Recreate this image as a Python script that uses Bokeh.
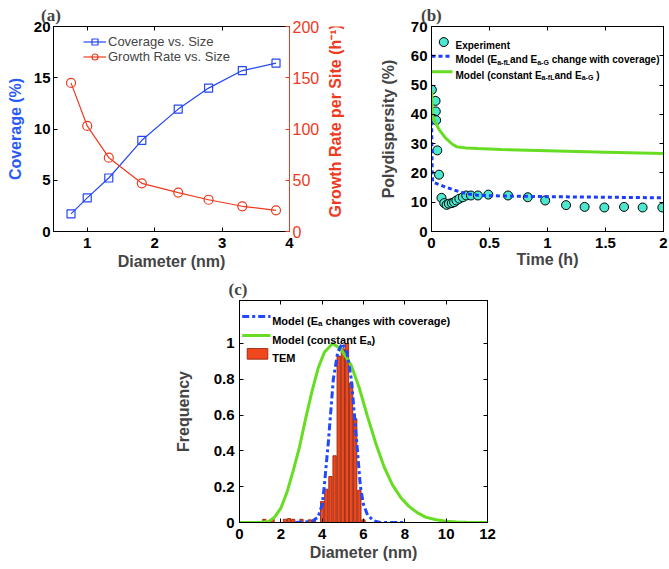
import math
from bokeh.plotting import figure
from bokeh.models import Range1d, LinearAxis, Label, Legend, LegendItem, Spacer, FixedTicker
from bokeh.layouts import row, column
from bokeh.embed import file_html
from bokeh.resources import INLINE

# ---------------- data ----------------
# panel (a)
a_diameter = [0.76, 1.0, 1.32, 1.81, 2.35, 2.8, 3.3, 3.8]
a_coverage = [1.72, 3.28, 5.22, 8.9, 11.94, 13.99, 15.7, 16.42]
a_growth = [145, 103, 72, 47, 38, 31, 24.6, 20.7]
a_xticks = [1, 2, 3, 4]
a_yticks = [0, 5, 10, 15, 20]
a_y2ticks = [0, 50, 100, 150, 200]

# panel (b)
b_time_exp = [0.003, 0.035, 0.037, 0.04, 0.05, 0.065, 0.086, 0.11, 0.13, 0.15, 0.175,
              0.195, 0.215, 0.24, 0.27, 0.30, 0.34, 0.40, 0.49, 0.66, 0.83, 0.98,
              1.16, 1.32, 1.49, 1.66, 1.82, 1.99]
b_pd_exp = [48.4, 44.6, 41.0, 38.0, 27.7, 19.4, 11.5, 9.7, 9.1, 9.5, 9.7,
            10.0, 10.6, 11.2, 11.7, 12.3, 12.3, 12.3, 12.6, 12.3, 11.7, 10.6,
            9.0, 8.4, 8.2, 8.4, 8.2, 8.2]
b_time_m1 = [0.0, 0.003, 0.006, 0.01, 0.1, 0.2, 0.3, 0.4, 0.5, 1.0, 1.5, 2.0]
b_pd_m1 = [40.0, 30.0, 21.0, 16.9, 15.5, 14.1, 12.9, 12.4, 12.2, 11.9, 11.7, 11.5]
b_time_m2 = [0.0, 0.008, 0.03, 0.066, 0.12, 0.18, 0.22, 0.3, 0.4, 0.6, 1.0, 1.5, 2.0]
b_pd_m2 = [48.0, 39.5, 37.5, 34.8, 32.0, 29.8, 28.9, 28.5, 28.3, 28.0, 27.6, 27.1, 26.6]
b_xticks = [0, 0.5, 1, 1.5, 2]
b_xlabels = ["0", "0.5", "1", "1.5", "2"]
b_yticks = [0, 10, 20, 30, 40, 50, 60, 70]

# panel (c)
c_hist_d = [1.2, 1.6, 2.2, 2.4, 2.6, 3.0, 3.4, 3.6, 4.0, 4.2, 4.4, 4.6, 4.8, 5.0,
            5.2, 5.4, 5.6, 5.8, 6.0]
c_hist_f = [0.018, 0.018, 0.018, 0.022, 0.018, 0.018, 0.015, 0.015, 0.117, 0.186,
            0.257, 0.373, 0.93, 0.97, 1.0, 0.78, 0.58, 0.18, 0.015]
c_m1_d = [2.7, 3.5, 3.8, 4.0, 4.1, 4.3, 4.54, 4.75, 4.97, 5.2, 5.41, 5.6, 5.85, 6.0,
          6.2, 6.5, 6.8, 7.2, 8.0]
c_m1_f = [0.0, 0.005, 0.03, 0.1, 0.2, 0.45, 0.8, 0.95, 1.0, 0.95, 0.8, 0.55, 0.2, 0.1,
          0.04, 0.01, 0.0, 0.0, 0.0]
c_m2_d = [0, 1.0, 1.4, 1.7, 2.0, 2.3, 2.6, 2.9, 3.2, 3.5, 3.8, 4.1, 4.5, 4.9, 5.4,
          5.8, 6.2, 6.6, 7.0, 7.4, 7.8, 8.2, 8.6, 9.0, 9.5, 10, 10.5, 11, 12]
c_m2_f = [0, 0, 0.005, 0.03, 0.08, 0.17, 0.29, 0.42, 0.58, 0.73, 0.86, 0.95, 1.0,
          0.97, 0.88, 0.75, 0.59, 0.44, 0.31, 0.21, 0.14, 0.09, 0.055, 0.03, 0.015,
          0.007, 0.003, 0.001, 0]
c_xticks = [0, 2, 4, 6, 8, 10, 12]
c_yticks = [0, 0.2, 0.4, 0.6, 0.8, 1]
c_ylabels = ["0", "0.2", "0.4", "0.6", "0.8", "1"]

# ---------------- styles ----------------
SANS = "Liberation Sans"
SERIF = "Liberation Serif"
BLUE_A = "#2447F2"
BLUE_LBL = "#2B5BF5"
RED_A = "#EE3A1E"
CYAN = "#4DE6CF"
BLUE_B = "#1B3CFF"
GREEN = "#66DD22"
BLUE_C = "#1F48FF"
BAR_FILL = "#F0471C"
BAR_EDGE = "#8A1C05"

WB = {' ': 278, '(': 333, ')': 333, '-': 333, '.': 278, '%': 889,
      'a': 556, 'b': 611, 'c': 556, 'd': 611, 'e': 556, 'f': 333, 'g': 611, 'h': 611,
      'i': 278, 'j': 278, 'k': 556, 'l': 278, 'm': 889, 'n': 611, 'o': 611, 'p': 611,
      'q': 611, 'r': 389, 's': 556, 't': 333, 'u': 611, 'v': 556, 'w': 778, 'x': 556,
      'y': 556, 'z': 500, 'A': 722, 'C': 722, 'E': 667, 'G': 778, 'L': 611, 'M': 833,
      'R': 722, 'S': 667, 'T': 611}


def tw(s, fs):
    return sum(WB.get(ch, 556) for ch in s) * fs / 1000.0


def style_axis(ax, tick_fs="15px", bold=True, color="black", standoff=4):
    ax.major_tick_in = 4
    ax.major_tick_out = 0
    ax.minor_tick_line_color = None
    ax.axis_line_color = color
    ax.major_tick_line_color = color
    ax.major_label_text_color = color
    ax.major_label_text_font = SANS
    ax.major_label_text_font_size = tick_fs
    ax.major_label_text_font_style = "bold" if bold else "normal"
    ax.major_label_standoff = standoff
    ax.axis_label_text_font = SANS
    ax.axis_label_text_font_style = "bold"
    ax.axis_label_text_font_size = "16px"


def box_axis(p, side, ticks):
    ax = LinearAxis(ticker=FixedTicker(ticks=ticks),
                    major_label_overrides={t: "" for t in ticks})
    style_axis(ax, tick_fs="1px", standoff=0)
    p.add_layout(ax, side)


def make_fig(w, h, xr, yr, bl, br, bt, bb, tag, tag_offset):
    p = figure(width=w, height=h, x_range=Range1d(*xr), y_range=Range1d(*yr),
               output_backend="svg", toolbar_location=None,
               min_border_left=bl, min_border_right=br, min_border_top=bt,
               min_border_bottom=bb)
    p.xgrid.grid_line_color = None
    p.ygrid.grid_line_color = None
    p.outline_line_color = "black"
    p.outline_line_alpha = 1.0
    p.background_fill_color = "white"
    p.border_fill_color = "white"
    p.title.text = tag
    p.title.text_font = SERIF
    p.title.text_font_size = "17px"
    p.title.text_font_style = "bold"
    p.title.align = "left"
    p.title.offset = tag_offset
    p.title.standoff = 3
    return p


def conv(xr, fw, yr, fh):
    fx = lambda px: xr[0] + px * (xr[1] - xr[0]) / fw
    fy = lambda py: yr[1] - py * (yr[1] - yr[0]) / fh
    return fx, fy


def compose(p, fx, fy, px0, py_base, pieces, fs_main, fs_sub, sub_drop=2.5, color="black"):
    x = px0
    for txt, kind in pieces:
        fs = fs_main if kind == "m" else fs_sub
        py = py_base + (sub_drop if kind == "s" else 0)
        lead = len(txt) - len(txt.lstrip(" "))
        x += tw(" " * lead, fs)
        t = txt.strip(" ")
        if t:
            p.add_layout(Label(x=fx(x), y=fy(py), text=t, text_font=SANS,
                               text_font_size=f"{fs}px", text_font_style="bold",
                               text_color=color, text_align="left",
                               text_baseline="alphabetic"))
        x += tw(t, fs)


ROW1_H = 276

# ---------------- panel (a) ----------------
AX, AY = (0.5, 4), (0, 20)
FA_W, FA_H = 237, 206
pa = make_fig(322, ROW1_H, AX, AY, 53, 32, 25, 45, "(a)", -12.5)
pa.extra_y_ranges = {"gr": Range1d(0, 200)}

ax = pa.xaxis[0]
ax.ticker = FixedTicker(ticks=a_xticks)
style_axis(ax, standoff=6)
ax.axis_label = "Diameter (nm)"
ax.axis_label_standoff = 2
ay = pa.yaxis[0]
ay.ticker = FixedTicker(ticks=a_yticks)
style_axis(ay, standoff=3)
ay.axis_label = "Coverage (%)"
ay.axis_label_text_color = BLUE_LBL
ay.axis_label_standoff = 7
ar = LinearAxis(y_range_name="gr", ticker=FixedTicker(ticks=a_y2ticks))
style_axis(ar, tick_fs="16px", bold=False, color=RED_A, standoff=3)
pa.add_layout(ar, "right")
box_axis(pa, "above", a_xticks)

l1 = pa.line(a_diameter, a_coverage, line_color=BLUE_A, line_width=1.2)
s1 = pa.scatter(a_diameter, a_coverage, marker="square", size=8, line_color=BLUE_A,
                fill_color=None, line_width=1.2)
l2 = pa.line(a_diameter, a_growth, line_color=RED_A, line_width=1.2, y_range_name="gr")
s2 = pa.scatter(a_diameter, a_growth, marker="circle", size=9, line_color=RED_A,
                fill_color=None, line_width=1.2, y_range_name="gr")
leg = Legend(items=[LegendItem(label="Coverage vs. Size", renderers=[l1, s1]),
                    LegendItem(label="Growth Rate vs. Size", renderers=[l2, s2])],
             location=(30, FA_H - 9 - 30), padding=0, margin=0, spacing=0,
             glyph_width=23, glyph_height=15, label_height=15, label_standoff=2,
             label_text_font=SANS, label_text_font_size="13px",
             border_line_color=None, background_fill_alpha=0)
pa.add_layout(leg)

# right-axis title of panel (a): a thin text-only canvas with rotated text
LBL_W = 26
plab = figure(width=LBL_W, height=ROW1_H, x_range=Range1d(0, LBL_W),
              y_range=Range1d(0, ROW1_H), output_backend="svg", toolbar_location=None,
              title=None, x_axis_type=None, y_axis_type=None,
              min_border_left=0, min_border_right=0, min_border_top=0,
              min_border_bottom=0)
plab.xgrid.grid_line_color = None
plab.ygrid.grid_line_color = None
plab.outline_line_color = None
plab.background_fill_color = "white"
plab.border_fill_color = "white"
plab.add_layout(Label(x=12.5, y=ROW1_H - 127, text="Growth Rate per Site (h\u207b\u00b9)",
                      angle=math.pi / 2, text_font=SANS, text_font_size="16px",
                      text_font_style="bold", text_color=RED_A,
                      text_align="center", text_baseline="middle"))

# ---------------- panel (b) ----------------
BX, BY = (0, 2), (0, 70)
FB_W, FB_H = 232, 207
pb = make_fig(320, ROW1_H, BX, BY, 83, 5, 26, 43, "(b)", -10.5)
fxb, fyb = conv(BX, FB_W, BY, FB_H)
bx = pb.xaxis[0]
bx.ticker = FixedTicker(ticks=b_xticks)
bx.major_label_overrides = {t: s for t, s in zip(b_xticks, b_xlabels)}
style_axis(bx, standoff=6)
bx.axis_label = "Time (h)"
bx.axis_label_standoff = 0
by = pb.yaxis[0]
by.ticker = FixedTicker(ticks=b_yticks)
style_axis(by, standoff=4)
by.axis_label = "Polydispersity (%)"
by.axis_label_standoff = 11
box_axis(pb, "above", b_xticks)
box_axis(pb, "right", b_yticks)

pb.scatter(b_time_exp, b_pd_exp, marker="circle", size=9, fill_color=CYAN,
           line_color="black", line_width=1)
pb.line(b_time_m1, b_pd_m1, line_color=BLUE_B, line_width=3, line_dash="4 3")
pb.line(b_time_m2, b_pd_m2, line_color=GREEN, line_width=3)

# legend (b)
pb.scatter([fxb(12.3)], [fyb(15.7)], marker="circle", size=9, fill_color=CYAN,
           line_color="black", line_width=1)
compose(pb, fxb, fyb, 24, 15.7 + 3.5, [("Experiment", "m")], 10, 7)
pb.line([fxb(0), fxb(21)], [fyb(30), fyb(30)], line_color=BLUE_B, line_width=3,
        line_dash="4 3")
compose(pb, fxb, fyb, 24, 30 + 3.5,
        [("Model (E", "m"), ("a-fL", "s"), ("and E", "m"), ("a-G", "s"),
         (" change with coverage)", "m")], 10, 7)
pb.line([fxb(0), fxb(21)], [fyb(45.7), fyb(45.7)], line_color=GREEN, line_width=3)
compose(pb, fxb, fyb, 24, 45.7 + 3.5,
        [("Model (constant E", "m"), ("a-fL", "s"), ("and E", "m"), ("a-G", "s"),
         (" )", "m")], 10, 7)

# ---------------- panel (c) ----------------
CX, CY = (0, 12), (0, 1.24)
FC_W, FC_H = 248, 222
pc = make_fig(330, 292, CX, CY, 71, 11, 24, 46, "(c)", -11)
fxc, fyc = conv(CX, FC_W, CY, FC_H)
cx = pc.xaxis[0]
cx.ticker = FixedTicker(ticks=c_xticks)
style_axis(cx, standoff=6)
cx.axis_label = "Diameter (nm)"
cx.axis_label_standoff = 2
cy = pc.yaxis[0]
cy.ticker = FixedTicker(ticks=c_yticks)
cy.major_label_overrides = {t: s for t, s in zip(c_yticks, c_ylabels)}
style_axis(cy, standoff=5)
cy.axis_label = "Frequency"
cy.axis_label_standoff = 19
box_axis(pc, "above", c_xticks)
box_axis(pc, "right", c_yticks)

pc.vbar(x=c_hist_d, width=0.16, top=c_hist_f, bottom=0, fill_color=BAR_FILL,
        line_color=BAR_EDGE, line_width=0.8)
pc.line(c_m2_d, c_m2_f, line_color=GREEN, line_width=3)
pc.line(c_m1_d, c_m1_f, line_color=BLUE_C, line_width=3, line_dash="7 3 3 3")

# legend (c)
pc.line([fxc(2.7), fxc(31)], [fyc(16), fyc(16)], line_color=BLUE_C, line_width=3,
        line_dash="7 3 3 3")
compose(pc, fxc, fyc, 32.7, 16 + 4,
        [("Model (E", "m"), ("a", "s"), (" changes with coverage)", "m")], 11, 8, 3)
pc.line([fxc(2.7), fxc(31)], [fyc(35), fyc(35)], line_color=GREEN, line_width=3)
compose(pc, fxc, fyc, 32.7, 35 + 4,
        [("Model (constant E", "m"), ("a", "s"), (")", "m")], 11, 8, 3)
pc.quad(left=[fxc(7.7)], right=[fxc(28.3)], top=[fyc(48)], bottom=[fyc(58.7)],
        fill_color=BAR_FILL, line_color=BAR_EDGE, line_width=0.8)
compose(pc, fxc, fyc, 32.7, 53.3 + 4, [("TEM", "m")], 11, 8)

layout = column(row(pa, plab, pb), row(Spacer(width=168, height=292), pc))
open("out.html", "w").write(file_html(layout, INLINE))
